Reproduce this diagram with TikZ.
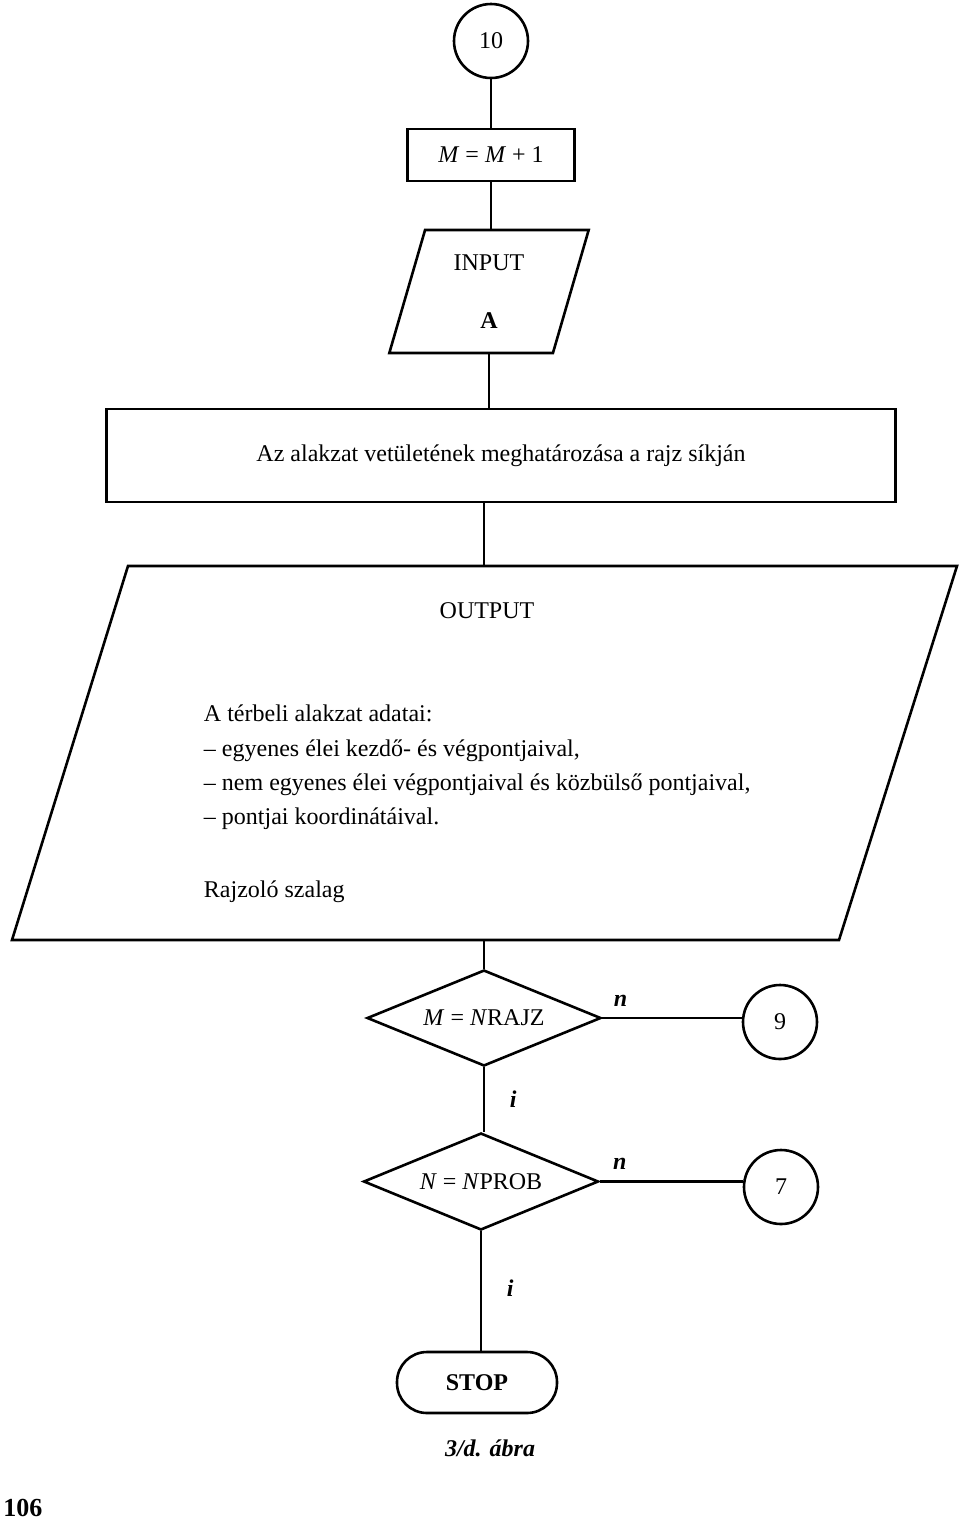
\documentclass[tikz,border=0pt]{standalone}
\usepackage{fontspec}
\setmainfont{Liberation Serif}
\usetikzlibrary{shapes.geometric}
\begin{document}
\begin{tikzpicture}[x=0.5pt,y=-0.5pt,line width=1.3pt,
  font=\fontsize{12}{14}\selectfont,
  conn/.style={circle,draw,minimum size=37pt,inner sep=0pt},
  proc/.style={rectangle,draw,inner sep=0pt},
  io/.style={trapezium,draw,trapezium stretches=true,inner sep=0pt},
  test/.style={diamond,draw,aspect=2.44,inner sep=0pt},
  lbl/.style={font=\fontsize{12}{14}\selectfont\bfseries\itshape}]
  \useasboundingbox (0,0) rectangle (960,1526);
  % start connector and counter:
  \node[conn] (c10) at (491,41) {10};
  \node[proc,minimum width=83.5pt,minimum height=26pt] (inc) at (491,155)
    {\textit{M} = \textit{M} + 1};
  % input:
  \node[io,trapezium left angle=75,trapezium right angle=105,
    minimum width=100pt,minimum height=61.5pt,align=center] (inp) at (489,291.5)
    {INPUT\\[15pt]\textbf{A}};
  % projection:
  \node[proc,minimum width=394.5pt,minimum height=46.5pt] (proj) at (501,455.5)
    {Az alakzat vetületének meghatározása a rajz síkján};
  % output (drawn as a path, corners):
  \draw (128,566) -- (957,566) -- (839,940) -- (12,940) -- cycle;
  \coordinate (outtop) at (484,566);
  \coordinate (outbot) at (484,940);
  \node (outtitle) at (487,611) {OUTPUT};
  \node[anchor=west] (data) at (196,713) {A térbeli alakzat adatai:};
  \node[anchor=west] (l1) at (196,751) {– egyenes élei kezdő- és végpontjaival,};
  \node[anchor=west] (l2) at (196,785) {– nem egyenes élei végpontjaival és közbülső pontjaival,};
  \node[anchor=west] (l3) at (196,819) {– pontjai koordinátáival.};
  \node[anchor=west] (tape) at (196,892) {Rajzoló szalag};
  % tests:
  \node[test,minimum width=117pt,minimum height=48pt] (d1) at (484,1018)
    {\textit{M} = \textit{N}RAJZ};
  \node[conn] (c9) at (780,1022) {9};
  \node[test,minimum width=117.5pt,minimum height=48.5pt] (d2) at (481,1181.5)
    {\textit{N} = \textit{N}PROB};
  \node[conn] (c7) at (781,1187) {7};
  % stop:
  \node[proc,rounded corners=15pt,minimum width=80pt,minimum height=30.5pt,
    font=\fontsize{12}{14}\selectfont\bfseries] (stop) at (477,1382.5) {STOP};
  % connectors:
  \draw (c10) -- (inc);
  \draw (inc.south) -- (inc.south |- inp.north);
  \draw (inp.south) -- (inp.south |- proj.north);
  \draw (proj.south -| outtop) -- (outtop);
  \draw (outbot) -- (d1.north);
  \draw (d1.east) -- node[lbl,above=2pt,pos=0.13] {n} (d1.east -| c9.west);
  \draw (d1.south) -- node[lbl,right=9pt] {i} (d1.south |- d2.north);
  \draw (d2.east) -- node[lbl,above=2pt,pos=0.14] {n} (d2.east -| c7.west);
  \draw (d2.south) -- node[lbl,right=9pt,pos=0.48] {i} (d2.south |- stop.north);
  % caption and page number:
  \node[lbl] (cap) at (490,1448) {3/d. ábra};
  \node[font=\fontsize{13}{15}\selectfont\bfseries] (page) at (23,1508) {106};
\end{tikzpicture}
\end{document}
